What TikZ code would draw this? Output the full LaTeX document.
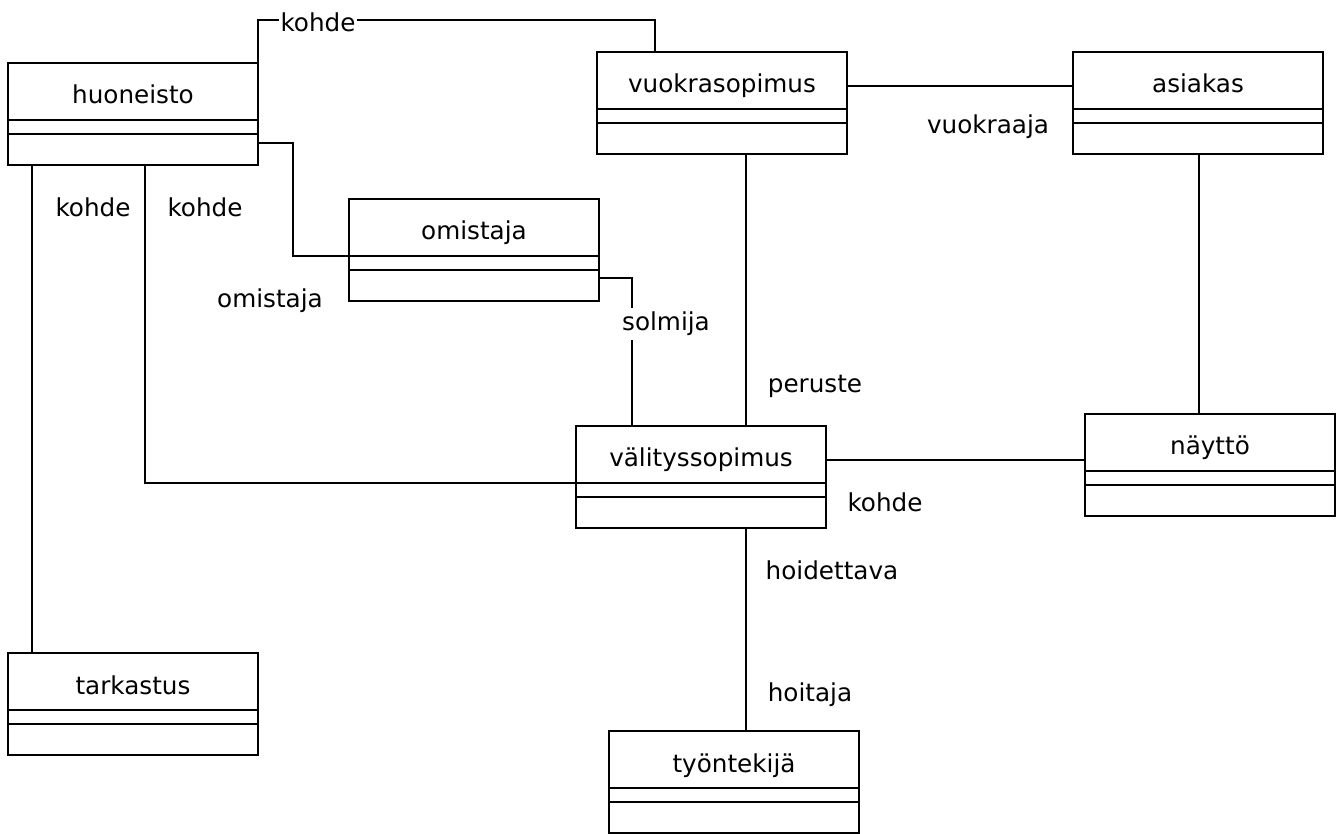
\documentclass[tikz,border=0pt]{standalone}
\usepackage{fontspec}
\setmainfont{DejaVu Sans}
\newcommand\umlclass[4]{%
  \node[classbox] (#1) at (#2,#3) {};
  \draw (#1.north west) ++(0,57) -- ++(250,0);
  \draw (#1.north west) ++(0,71) -- ++(250,0);
  \path (#1.north) ++(0,41) node[lbl] (#1-name) {#4};
}
\begin{document}
\begin{tikzpicture}[x=0.75pt,y=-0.75pt,line width=1.5pt,
  classbox/.style={draw, rectangle, minimum width=187.5pt, minimum height=76.5pt,
    inner sep=0pt, outer sep=0pt, anchor=north west},
  lbl/.style={font=\fontsize{18.5pt}{22pt}\selectfont, anchor=base, inner sep=0pt},
  cover/.style={lbl, fill=white, inner xsep=1.5pt, inner ysep=3pt}]
\fill[white] (0,0) rectangle (1340,834);
\useasboundingbox (0,0) rectangle (1340,834);

\umlclass{huo}{8}{63}{huoneisto}
\umlclass{vuo}{597}{52}{vuokrasopimus}
\umlclass{asi}{1073}{52}{asiakas}
\umlclass{omi}{349}{199}{omistaja}
\umlclass{val}{576}{426}{välityssopimus}
\umlclass{nay}{1085}{414}{näyttö}
\umlclass{tar}{8}{653}{tarkastus}
\umlclass{tyo}{609}{731}{työntekijä}

% connectors
\draw (huo.north east) -- ++(0,-43) -| ([xshift=43.5pt]vuo.north west);
\draw ([yshift=-25.5pt]vuo.north east) -- ([yshift=-25.5pt]asi.north west);
\draw ([yshift=-60pt]huo.north east) -- ++(35,0) |- ([yshift=-42.75pt]omi.north west);
\draw ([yshift=-59.25pt]omi.north east) -| ([xshift=42pt]val.north west);
\draw ([xshift=111.75pt]vuo.south west) -- ([xshift=127.5pt]val.north west);
\draw ([xshift=94.5pt]asi.south west) -- ([xshift=85.5pt]nay.north west);
\draw ([yshift=-25.5pt]val.north east) -- ([yshift=-34.5pt]nay.north west);
\draw ([xshift=18pt]huo.south west) -- ([xshift=18pt]tar.north west);
\draw ([xshift=102.75pt]huo.south west) |- ([yshift=-42.75pt]val.north west);
\draw ([xshift=127.5pt]val.south west) -- ([xshift=102.75pt]tyo.north west);

% labels
\node[cover] (l1) at (318,32) {kohde};
\node[lbl] (l2) at (988,134) {vuokraaja};
\node[lbl] (l3) at (93,217) {kohde};
\node[lbl] (l4) at (205,217) {kohde};
\node[lbl] (l5) at (270,308) {omistaja};
\node[cover] (l6) at (666,331) {solmija};
\node[lbl] (l7) at (815,393) {peruste};
\node[lbl] (l8) at (885,511) {kohde};
\node[lbl] (l9) at (832,579) {hoidettava};
\node[lbl] (l10) at (810,701) {hoitaja};
\end{tikzpicture}
\end{document}
